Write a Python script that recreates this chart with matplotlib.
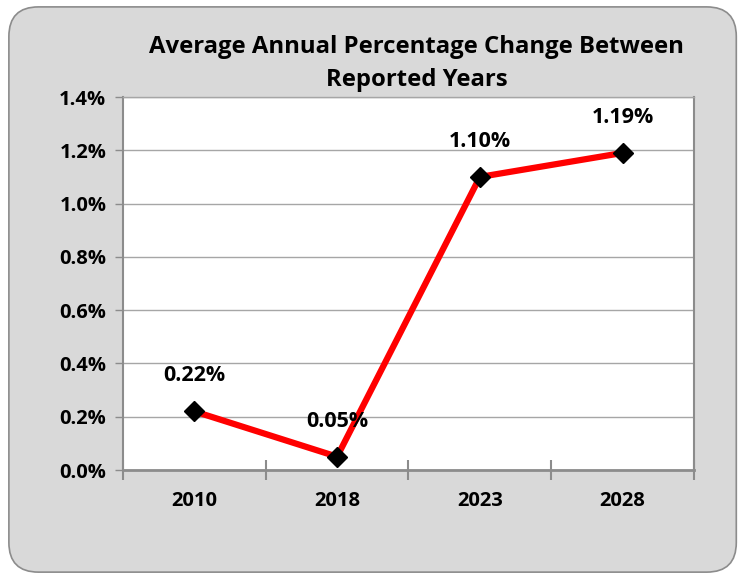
import numpy as np
import matplotlib.pyplot as plt
from matplotlib.patches import FancyBboxPatch
from matplotlib.ticker import FuncFormatter, FixedLocator

years = ["2010", "2018", "2023", "2028"]
pct_change = [0.22, 0.05, 1.10, 1.19]
point_labels = ["0.22%", "0.05%", "1.10%", "1.19%"]
title = "Average Annual Percentage Change Between\nReported Years"

plt.rcParams['font.family'] = ['Open Sans', 'DejaVu Sans']
plt.rcParams['font.weight'] = 'bold'

fig = plt.figure(figsize=(7.4, 5.75), dpi=100)
fig.patch.set_facecolor('white')

# rounded gray chart area
bg = FancyBboxPatch((0.012, 0.005), 0.983, 0.983,
                    boxstyle="round,pad=0,rounding_size=0.04",
                    transform=fig.transFigure, facecolor='#d9d9d9',
                    edgecolor='#8c8c8c', linewidth=1.2, zorder=-5,
                    mutation_aspect=740 / 575)
fig.patches.append(bg)

ax = fig.add_axes([0.1662, 0.1826, 0.7716, 0.6487])
ax.set_zorder(2)
ax.set_facecolor('white')

x = np.arange(len(years))
ax.plot(x, pct_change, color='#ff0000', linewidth=4.5, zorder=3,
        marker='D', markersize=10, markerfacecolor='black',
        markeredgecolor='black')

for xi, yi, lab in zip(x, pct_change, point_labels):
    ax.annotate(lab, (xi, yi), xytext=(0, 18), textcoords='offset points',
                ha='center', va='bottom', fontsize=15.5, fontweight='bold')

ax.set_xlim(-0.5, 3.5)
ax.set_ylim(0, 1.4)
ax.set_yticks(np.arange(0, 1.41, 0.2))
ax.yaxis.set_major_formatter(FuncFormatter(lambda v, p: f"{v:.1f}%"))
ax.grid(axis='y', color='#a6a6a6', linewidth=1)
ax.set_axisbelow(True)

ax.set_xticks(x)
ax.set_xticklabels(years)
ax.xaxis.set_minor_locator(FixedLocator([-0.5, 0.5, 1.5, 2.5, 3.5]))
ax.tick_params(axis='x', which='major', length=0, pad=15, labelsize=14.5)
ax.tick_params(axis='x', which='minor', length=14, direction='inout',
               color='#8c8c8c', width=1.5)
ax.tick_params(axis='y', length=6, color='#8c8c8c', width=1, labelsize=14.5, pad=6)

for s in ['left', 'right']:
    ax.spines[s].set_color('#8c8c8c')
    ax.spines[s].set_linewidth(1.5)
ax.spines['bottom'].set_color('#8c8c8c')
ax.spines['bottom'].set_linewidth(2)
ax.spines['top'].set_color('#a6a6a6')
ax.spines['top'].set_linewidth(1)

for lab in ax.get_xticklabels() + ax.get_yticklabels():
    lab.set_fontweight('bold')

fig.text(0.563, 0.889, title, ha='center', va='center', fontsize=17.2,
         fontweight='bold', linespacing=1.5)

fig.savefig('out.png', dpi=100)
